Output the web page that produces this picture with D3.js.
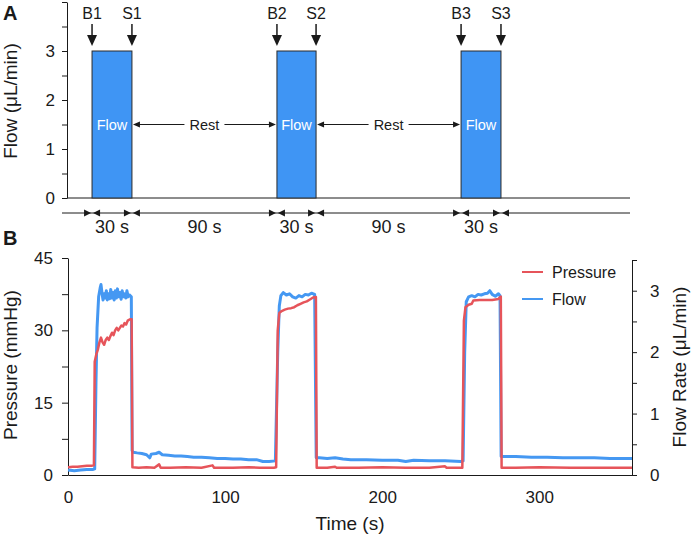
<!DOCTYPE html>
<html>
<head>
<meta charset="utf-8">
<script src="https://cdn.jsdelivr.net/npm/d3@7"></script>
<style>
body { margin: 0; background: #fff; }
svg { font-family: 'Liberation Sans', Arial, sans-serif; }
</style>
</head>
<body>
<div class="container"></div>
<script>
// panel A: flow protocol (times in s)
var flowStart = [15.3, 133.0, 250.2];
var flowEnd = [40.7, 157.9, 275.6];
var startLabels = ['B1', 'B2', 'B3'];
var stopLabels = ['S1', 'S2', 'S3'];
var setFlow = 3;
var flowTicksA = [0, 1, 2, 3];
var durationLabels = ['30 s', '90 s', '30 s', '90 s', '30 s'];

// panel B: recorded traces [time s, value]
var pressureData = [
    [0, 1.6], [3, 1.7], [6, 1.7], [9, 1.8], [12, 1.9], [15, 1.9], [16.5, 2.0],
    [17, 23.5], [18, 25], [19, 26], [20, 27.5], [21, 28.5], [22, 27.5], [23, 27],
    [24, 28], [25, 28.5], [26, 28], [27, 28.8], [28, 29.5], [29, 29], [30, 30],
    [31, 30.5], [32, 30], [33, 30.5], [34, 31], [35, 30.8], [36, 31.5], [37, 31.2],
    [38, 32], [39.5, 32.3], [40.5, 32.3], [41, 1.6],
    [45, 1.5], [50, 1.6], [55, 1.5], [58, 2.2], [59, 1.5], [65, 1.5], [75, 1.6],
    [85, 1.5], [92, 2.0], [93, 1.5], [105, 1.5], [115, 1.6], [122, 1.5], [131, 1.5], [132.5, 1.6],
    [133.5, 30], [134.5, 33.6], [136, 34], [138, 34.3], [140, 34.5], [142, 34.6],
    [144, 34.8], [146, 35.2], [148, 35.5], [150, 35.8], [152, 36], [154, 36.4],
    [156, 36.8], [157.8, 36.9], [158.3, 1.5],
    [165, 1.5], [170, 1.7], [171, 1.5], [185, 1.5], [200, 1.6], [215, 1.5],
    [230, 1.5], [240, 1.8], [241, 1.5], [251, 1.5],
    [252, 32], [253, 34.8], [255, 35.3], [257, 35.5], [258, 36.2], [262, 36.3],
    [266, 36.3], [270, 36.3], [274, 36.5], [275.5, 37], [276, 1.5],
    [285, 1.5], [300, 1.6], [320, 1.5], [340, 1.5], [359, 1.5]
];
var flowData = [
    [0, 0.08], [4, 0.07], [8, 0.08], [12, 0.09], [16, 0.09], [17, 0.1],
    [17.8, 1.5], [18.5, 2.4], [19.5, 2.9], [20.5, 3.05], [21, 3.1], [21.7, 2.95],
    [22.3, 2.85], [23, 2.95], [23.7, 2.88], [24.4, 3.0], [25, 2.85], [25.8, 2.95],
    [26.5, 2.87], [27.2, 3.02], [28, 2.88], [28.7, 2.97], [29.4, 2.85], [30.1, 3.0],
    [30.8, 2.88], [31.5, 3.03], [32.2, 2.9], [33, 2.97], [33.8, 2.86], [34.5, 3.0],
    [35.2, 2.9], [36, 2.95], [36.8, 2.88], [37.5, 3.0], [38.3, 2.9], [39.2, 2.93],
    [40.3, 2.9], [40.8, 0.4],
    [41.5, 0.37], [44, 0.36], [47, 0.35], [50, 0.33], [52, 0.28], [53, 0.34],
    [56, 0.35], [58, 0.37], [60, 0.33], [64, 0.32], [68, 0.31], [72, 0.31],
    [76, 0.3], [80, 0.29], [85, 0.29], [90, 0.28], [95, 0.27], [100, 0.27],
    [105, 0.26], [110, 0.26], [115, 0.25], [120, 0.25], [124, 0.22], [128, 0.22], [132, 0.23],
    [133.5, 2.0], [134.5, 2.75], [135.5, 2.92], [137, 2.97], [139, 2.93], [141, 2.95],
    [143, 2.9], [145, 2.88], [147, 2.92], [149, 2.9], [151, 2.94], [153, 2.93],
    [155, 2.96], [157, 2.94], [158, 0.28],
    [160, 0.28], [165, 0.27], [170, 0.28], [175, 0.26], [180, 0.25], [190, 0.25],
    [200, 0.24], [210, 0.24], [215, 0.22], [220, 0.24], [230, 0.23], [240, 0.23],
    [250, 0.22], [251.5, 0.23],
    [252.5, 2.0], [253.5, 2.82], [255, 2.9], [257, 2.92], [259, 2.9], [261, 2.94],
    [263, 2.93], [265, 2.95], [267, 2.96], [268.5, 3.0], [270, 2.94], [272, 2.91],
    [274, 2.95], [275, 2.92], [275.7, 0.3],
    [277, 0.3], [285, 0.3], [295, 0.29], [305, 0.29], [315, 0.28], [325, 0.28],
    [335, 0.28], [345, 0.27], [359, 0.27]
];
var timeTicks = [0, 100, 200, 300];
var pressureTicks = [0, 15, 30, 45];
var flowRateTicks = [0, 1, 2, 3];

var RED = '#e6545a';
var BLUE = '#4598f2';
var BAR = '#3f95f4';
var INK = '#1a1a1a';

var svg = d3.select('.container').append('svg')
    .attr('width', 692)
    .attr('height', 536);

var xScale = d3.scaleLinear().domain([0, 359]).range([68, 632]);
var yA = d3.scaleLinear().domain([0, 4]).range([198, 2]);
var yP = d3.scaleLinear().domain([0, 45]).range([475, 258]);
var yF = d3.scaleLinear().domain([0, 3.5]).range([475, 260]);

var styleAxis = function (g, size) {
    g.selectAll('path, line').attr('stroke', INK);
    g.selectAll('text').attr('font-size', size).attr('fill', INK)
        .attr('font-family', "'Liberation Sans', Arial, sans-serif");
};

var onlyIn = function (list) {
    return function (d) { return list.indexOf(d) >= 0 ? d : ''; };
};

var tri = function (pts) {
    return 'M' + pts.map(function (p) { return p.join(','); }).join('L') + 'Z';
};

// ---------- panel A ----------
var gA = svg.append('g');

gA.append('g')
    .attr('transform', 'translate(67,0)')
    .call(d3.axisLeft(yA).tickValues(d3.range(0, 4.01, 0.5))
        .tickSize(5).tickSizeOuter(0).tickPadding(7).tickFormat(onlyIn(flowTicksA)))
    .call(styleAxis, 17);

gA.append('line')
    .attr('x1', 67).attr('x2', 630)
    .attr('y1', yA(0)).attr('y2', yA(0))
    .attr('stroke', INK);

gA.selectAll('rect.bar')
    .data(flowStart)
    .enter()
    .append('rect')
    .attr('class', 'bar')
    .attr('x', function (d) { return xScale(d); })
    .attr('width', function (d, i) { return xScale(flowEnd[i]) - xScale(d); })
    .attr('y', yA(setFlow))
    .attr('height', yA(0) - yA(setFlow))
    .attr('fill', BAR)
    .attr('stroke', '#2b2b2b')
    .attr('stroke-width', 1);

gA.selectAll('text.flow')
    .data(flowStart)
    .enter()
    .append('text')
    .attr('x', function (d, i) { return (xScale(d) + xScale(flowEnd[i])) / 2; })
    .attr('y', yA(1.5))
    .attr('dy', '0.35em')
    .attr('text-anchor', 'middle')
    .attr('font-size', 14.5)
    .attr('fill', '#fff')
    .text('Flow');

// B/S markers above the bars
var markers = [];
flowStart.forEach(function (d, i) {
    markers.push({t: d, label: startLabels[i]});
    markers.push({t: flowEnd[i], label: stopLabels[i]});
});
var mk = gA.selectAll('g.marker')
    .data(markers)
    .enter()
    .append('g')
    .attr('transform', function (d) { return 'translate(' + xScale(d.t) + ',0)'; });
mk.append('text')
    .attr('y', 19)
    .attr('text-anchor', 'middle')
    .attr('font-size', 16)
    .attr('fill', INK)
    .text(function (d) { return d.label; });
mk.append('line')
    .attr('y1', 24).attr('y2', 37)
    .attr('stroke', INK).attr('stroke-width', 1.5);
mk.append('path')
    .attr('d', tri([[-5, 35], [5, 35], [0, 46]]))
    .attr('fill', INK);

// Rest arrows between bars
var yRest = yA(1.5);
for (var i = 0; i < flowStart.length - 1; i++) {
    var left = xScale(flowEnd[i]) + 1;
    var right = xScale(flowStart[i + 1]) - 1;
    var mid = (left + right) / 2;
    gA.append('line').attr('x1', left + 5).attr('x2', mid - 20)
        .attr('y1', yRest).attr('y2', yRest).attr('stroke', INK);
    gA.append('line').attr('x1', mid + 20).attr('x2', right - 5)
        .attr('y1', yRest).attr('y2', yRest).attr('stroke', INK);
    gA.append('path').attr('d', tri([[left, yRest], [left + 7, yRest - 3], [left + 7, yRest + 3]])).attr('fill', INK);
    gA.append('path').attr('d', tri([[right, yRest], [right - 7, yRest - 3], [right - 7, yRest + 3]])).attr('fill', INK);
    gA.append('text').attr('x', mid).attr('y', yRest).attr('dy', '0.35em')
        .attr('text-anchor', 'middle').attr('font-size', 14.5).attr('fill', INK)
        .text('Rest');
}

// duration row
var yDur = 213;
var edges = [];
flowStart.forEach(function (d, i) { edges.push(d, flowEnd[i]); });
gA.append('line').attr('x1', 62).attr('x2', 630)
    .attr('y1', yDur).attr('y2', yDur).attr('stroke', INK);
edges.forEach(function (e) {
    var X = xScale(e);
    gA.append('path').attr('d', tri([[X - 1, yDur], [X - 8, yDur - 3.5], [X - 8, yDur + 3.5]])).attr('fill', INK);
    gA.append('path').attr('d', tri([[X + 1, yDur], [X + 8, yDur - 3.5], [X + 8, yDur + 3.5]])).attr('fill', INK);
});
gA.selectAll('text.dur')
    .data(durationLabels)
    .enter()
    .append('text')
    .attr('x', function (d, i) { return (xScale(edges[i]) + xScale(edges[i + 1])) / 2; })
    .attr('y', 233)
    .attr('text-anchor', 'middle')
    .attr('font-size', 18)
    .attr('fill', INK)
    .text(function (d) { return d; });

gA.append('text')
    .attr('transform', 'translate(17,101) rotate(-90)')
    .attr('text-anchor', 'middle')
    .attr('font-size', 19)
    .attr('fill', INK)
    .text('Flow (μL/min)');

// ---------- panel B ----------
var gB = svg.append('g');

gB.append('g')
    .attr('transform', 'translate(68,0)')
    .call(d3.axisLeft(yP).tickValues(d3.range(0, 45.1, 7.5))
        .tickSize(6).tickSizeOuter(0).tickPadding(9).tickFormat(onlyIn(pressureTicks)))
    .call(styleAxis, 17);

gB.append('g')
    .attr('transform', 'translate(632,0)')
    .call(d3.axisRight(yF).tickValues(d3.range(0, 3.51, 0.5))
        .tickSize(5).tickSizeOuter(0).tickPadding(13).tickFormat(onlyIn(flowRateTicks)))
    .call(styleAxis, 17);

gB.append('g')
    .attr('transform', 'translate(0,475)')
    .call(d3.axisBottom(xScale).tickValues(timeTicks)
        .tickSize(0).tickSizeOuter(0).tickPadding(16))
    .call(styleAxis, 17);

var flowLine = d3.line()
    .x(function (d) { return xScale(d[0]); })
    .y(function (d) { return yF(d[1]); });
var pressureLine = d3.line()
    .x(function (d) { return xScale(d[0]); })
    .y(function (d) { return yP(d[1]); });

gB.append('path')
    .datum(flowData)
    .attr('d', flowLine)
    .attr('fill', 'none')
    .attr('stroke', BLUE)
    .attr('stroke-width', 3)
    .attr('stroke-linejoin', 'round');

gB.append('path')
    .datum(pressureData)
    .attr('d', pressureLine)
    .attr('fill', 'none')
    .attr('stroke', RED)
    .attr('stroke-width', 2.5)
    .attr('stroke-linejoin', 'round');

// legend
var legend = [{name: 'Pressure', color: RED, y: 272}, {name: 'Flow', color: BLUE, y: 299}];
var lg = gB.selectAll('g.legend')
    .data(legend)
    .enter()
    .append('g');
lg.append('line')
    .attr('x1', 522).attr('x2', 543)
    .attr('y1', function (d) { return d.y; })
    .attr('y2', function (d) { return d.y; })
    .attr('stroke', function (d) { return d.color; })
    .attr('stroke-width', 2);
lg.append('text')
    .attr('x', 552)
    .attr('y', function (d) { return d.y; })
    .attr('dy', '0.35em')
    .attr('font-size', 16)
    .attr('fill', INK)
    .text(function (d) { return d.name; });

gB.append('text')
    .attr('transform', 'translate(17,365) rotate(-90)')
    .attr('text-anchor', 'middle')
    .attr('font-size', 19)
    .attr('fill', INK)
    .text('Pressure (mmHg)');

gB.append('text')
    .attr('transform', 'translate(686,367) rotate(-90)')
    .attr('text-anchor', 'middle')
    .attr('font-size', 19)
    .attr('fill', INK)
    .text('Flow Rate (μL/min)');

gB.append('text')
    .attr('x', 350)
    .attr('y', 530)
    .attr('text-anchor', 'middle')
    .attr('font-size', 19)
    .attr('fill', INK)
    .text('Time (s)');

// panel letters
svg.append('text').attr('x', 3).attr('y', 20)
    .attr('font-size', 20).attr('font-weight', 'bold').attr('fill', INK).text('A');
svg.append('text').attr('x', 3).attr('y', 245)
    .attr('font-size', 20).attr('font-weight', 'bold').attr('fill', INK).text('B');
</script>
</body>
</html>
